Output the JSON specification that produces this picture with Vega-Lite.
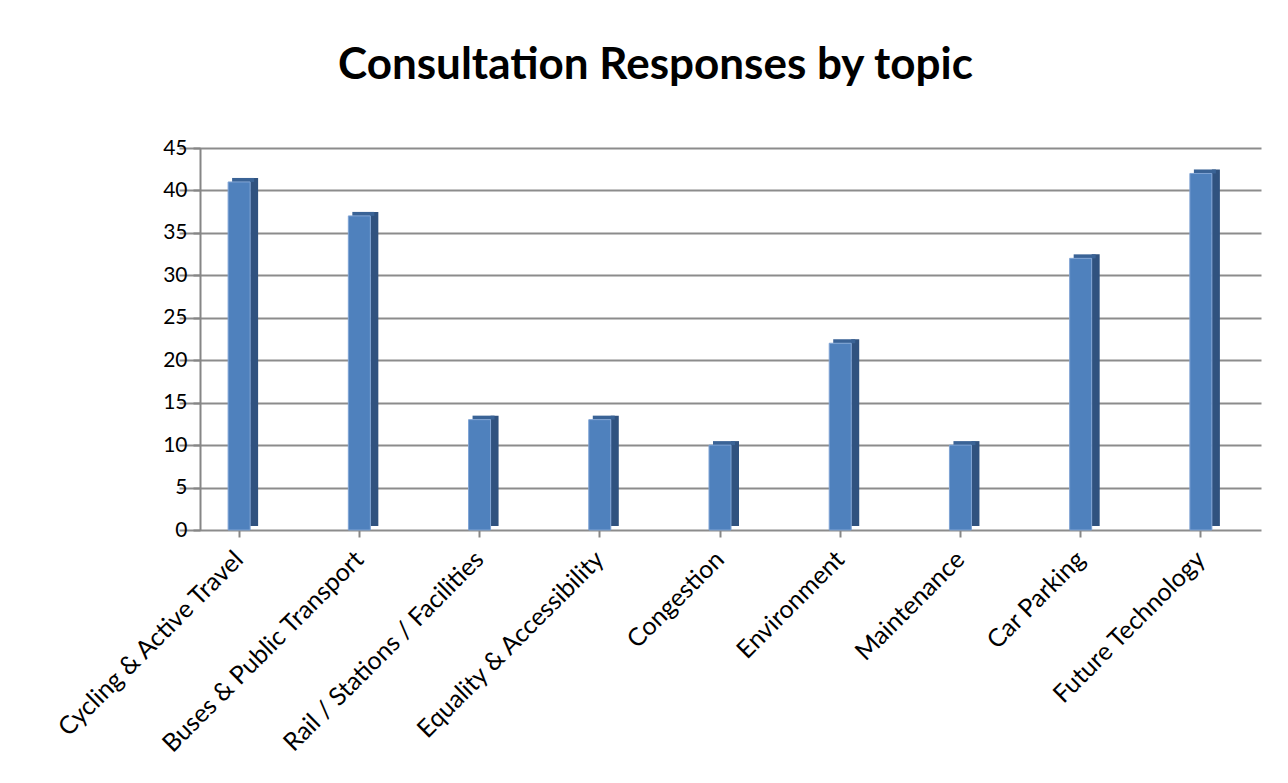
{
  "$schema": "https://vega.github.io/schema/vega-lite/v6.json",
  "autosize": "none",
  "width": 1045,
  "height": 382,
  "padding": {"left": 200, "top": 148, "right": 43, "bottom": 253},
  "background": "white",
  "title": {
    "text": "Consultation Responses by topic",
    "font": "Lato",
    "fontSize": 44,
    "fontWeight": "bold",
    "color": "#000000",
    "anchor": "middle",
    "frame": "group",
    "dx": -67,
    "offset": 49
  },
  "data": {
    "values": [
      {"topic": "Cycling & Active Travel", "responses": 41},
      {"topic": "Buses & Public Transport", "responses": 37},
      {"topic": "Rail / Stations / Facilities", "responses": 13},
      {"topic": "Equality & Accessibility", "responses": 13},
      {"topic": "Congestion", "responses": 10},
      {"topic": "Environment", "responses": 22},
      {"topic": "Maintenance", "responses": 10},
      {"topic": "Car Parking", "responses": 32},
      {"topic": "Future Technology", "responses": 42}
    ]
  },
  "encoding": {
    "x": {
      "field": "topic",
      "type": "nominal",
      "sort": null,
      "scale": {"range": [-21, 1061], "paddingInner": 0, "paddingOuter": 0},
      "axis": {
        "title": null,
        "labelAngle": -45,
        "labelAlign": "right",
        "labelBaseline": "middle",
        "labelFont": "Lato",
        "labelFontSize": 25,
        "labelColor": "#000000",
        "labelPadding": 18,
        "labelLimit": 0,
        "labelOverlap": false,
        "domain": false,
        "tickColor": "#868686",
        "tickWidth": 2,
        "tickSize": 7,
        "grid": false
      }
    },
    "y": {
      "field": "responses",
      "type": "quantitative",
      "scale": {"domain": [0, 45], "nice": false},
      "axis": {
        "title": null,
        "values": [0, 5, 10, 15, 20, 25, 30, 35, 40, 45],
        "labelFont": "Lato",
        "labelFontSize": 21,
        "labelColor": "#000000",
        "labelPadding": 6,
        "domainColor": "#868686",
        "domainWidth": 2,
        "tickColor": "#868686",
        "tickWidth": 2,
        "tickSize": 7,
        "grid": true,
        "gridColor": "#8C8C8C",
        "gridWidth": 2
      }
    }
  },
  "layer": [
    {
      "mark": {"type": "bar", "width": 8, "xOffset": 15, "yOffset": -4, "color": "#30527F"}
    },
    {
      "mark": {"type": "bar", "width": 22, "xOffset": 4, "y2Offset": -4, "color": "#3A6396"},
      "encoding": {
        "y2": {"field": "responses"}
      }
    },
    {
      "mark": {"type": "bar", "width": 22, "color": "#4F81BD", "stroke": "#7FA3D4", "strokeWidth": 1}
    }
  ],
  "config": {
    "view": {"stroke": null}
  }
}
